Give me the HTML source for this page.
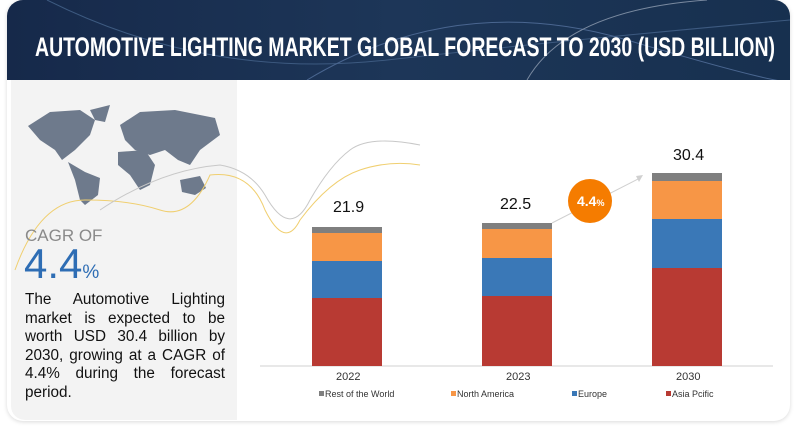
<!DOCTYPE html>
<html><head><style>
body{margin:0;width:800px;height:427px;background:#fff;position:relative;overflow:hidden;font-family:"Liberation Sans",sans-serif}
.card{position:absolute;left:7px;top:0;width:783px;height:421px;border-radius:16px;background:#fff;box-shadow:0 1px 4px rgba(0,0,0,.15)}
.hdr{position:absolute;left:7px;top:0;width:783px;height:80px;border-radius:16px 16px 0 0;background:linear-gradient(90deg,#16294a,#1d3658 50%,#17304f);overflow:hidden}
.left{position:absolute;left:11px;top:80px;width:226px;height:340px;background:#f3f3f3;border-radius:0 0 0 14px}
.cagr{position:absolute;left:25px;top:226px;color:#8a8a8a;font-size:17px}
.big{position:absolute;left:24px;top:240px;color:#2e6db4;font-size:42px}
.big span{font-size:19px}
.para{position:absolute;left:25px;top:291px;width:200px;font-size:15.3px;letter-spacing:0;line-height:18.6px;text-align:justify;color:#111}
.lbl{position:absolute;font-size:11px;color:#333}
.val{position:absolute;font-size:16px;color:#111}
</style></head><body>
<div class="card"></div>
<div class="hdr">
<svg width="783" height="80" style="position:absolute;left:0;top:0">
<path d="M40 0 Q200 80 380 60 T783 20" stroke="#3d5a80" fill="none" stroke-width="1"/>
<path d="M300 80 Q450 -10 620 40 T783 80" stroke="#4a6690" fill="none" stroke-width="1"/>
<path d="M520 80 Q560 10 700 0" stroke="#7a8aa0" fill="none" stroke-width="1"/>
<text x="28" y="56" fill="#fff" font-size="27" font-weight="bold" font-family="Liberation Sans" textLength="740" lengthAdjust="spacingAndGlyphs">AUTOMOTIVE LIGHTING MARKET GLOBAL FORECAST TO 2030 (USD BILLION)</text>
</svg>
</div>
<div class="left"></div>
<svg width="800" height="427" style="position:absolute;left:0;top:0">
<g fill="#6e7a8c">
<path d="M28 126 L50 112 L80 110 L95 120 L90 135 L75 150 L62 160 L55 150 L40 140 Z"/>
<path d="M90 110 L110 105 L105 122 L95 120Z"/>
<path d="M68 162 L85 172 L100 178 L98 195 L85 205 L80 200 L75 180Z"/>
<path d="M120 125 L140 112 L175 110 L215 118 L220 135 L200 150 L190 165 L178 160 L165 150 L150 155 L135 150 L125 140Z"/>
<path d="M118 152 L145 150 L155 165 L150 185 L140 190 L130 175 L118 165Z"/>
<path d="M180 180 L200 176 L206 188 L195 195 L182 192Z"/>
</g>
<path d="M15 270 Q40 200 85 200 T160 210 T210 175 Q250 170 265 210 Q285 250 300 220 Q330 180 360 170 T420 165" stroke="#f0cf70" fill="none" stroke-width="1"/>
<path d="M100 210 Q160 170 220 165 Q250 170 265 195 Q290 240 310 200 Q330 165 350 150 T420 145" stroke="#c8c8c8" fill="none" stroke-width="1"/>
<line x1="260" y1="366" x2="773" y2="366" stroke="#d0d0d0"/>
<rect x="312" y="298" width="70" height="68" fill="#b83a33"/>
<rect x="312" y="261" width="70" height="37" fill="#3a78b7"/>
<rect x="312" y="233" width="70" height="28" fill="#f79646"/>
<rect x="312" y="227" width="70" height="6" fill="#7f7f7f"/>
<rect x="482" y="296" width="70" height="70" fill="#b83a33"/>
<rect x="482" y="258" width="70" height="38" fill="#3a78b7"/>
<rect x="482" y="229" width="70" height="29" fill="#f79646"/>
<rect x="482" y="223" width="70" height="6" fill="#7f7f7f"/>
<rect x="652" y="268" width="70" height="98" fill="#b83a33"/>
<rect x="652" y="219" width="70" height="49" fill="#3a78b7"/>
<rect x="652" y="181" width="70" height="38" fill="#f79646"/>
<rect x="652" y="173" width="70" height="8" fill="#7f7f7f"/>
<line x1="552" y1="223" x2="640" y2="178" stroke="#d0d0d0"/>
<path d="M643 175 L636 176 L639 182Z" fill="#d0d0d0"/>
<circle cx="590" cy="201" r="22" fill="#f57c00"/>
<text x="577" y="206" fill="#fff" font-size="14" font-weight="bold" font-family="Liberation Sans">4.4<tspan font-size="9">%</tspan></text>
<g font-size="9" fill="#333" font-family="Liberation Sans">
<rect x="319" y="391" width="5" height="5" fill="#7f7f7f"/><text x="325" y="397">Rest of the World</text>
<rect x="451" y="391" width="5" height="5" fill="#f79646"/><text x="457" y="397">North America</text>
<rect x="572" y="391" width="5" height="5" fill="#3a78b7"/><text x="578" y="397">Europe</text>
<rect x="666" y="391" width="5" height="5" fill="#b83a33"/><text x="672" y="397">Asia Pcific</text>
</g>
</svg>
<div class="val" style="left:333px;top:199px">21.9</div>
<div class="val" style="left:500px;top:196px">22.5</div>
<div class="val" style="left:673px;top:147px">30.4</div>
<div class="lbl" style="left:336px;top:371px">2022</div>
<div class="lbl" style="left:506px;top:371px">2023</div>
<div class="lbl" style="left:676px;top:371px">2030</div>
<div class="cagr">CAGR OF</div>
<div class="big">4.4<span>%</span></div>
<div class="para">The Automotive Lighting market is expected to be worth USD 30.4 billion by 2030, growing at a CAGR of 4.4% during the forecast period.</div>
</body></html>
